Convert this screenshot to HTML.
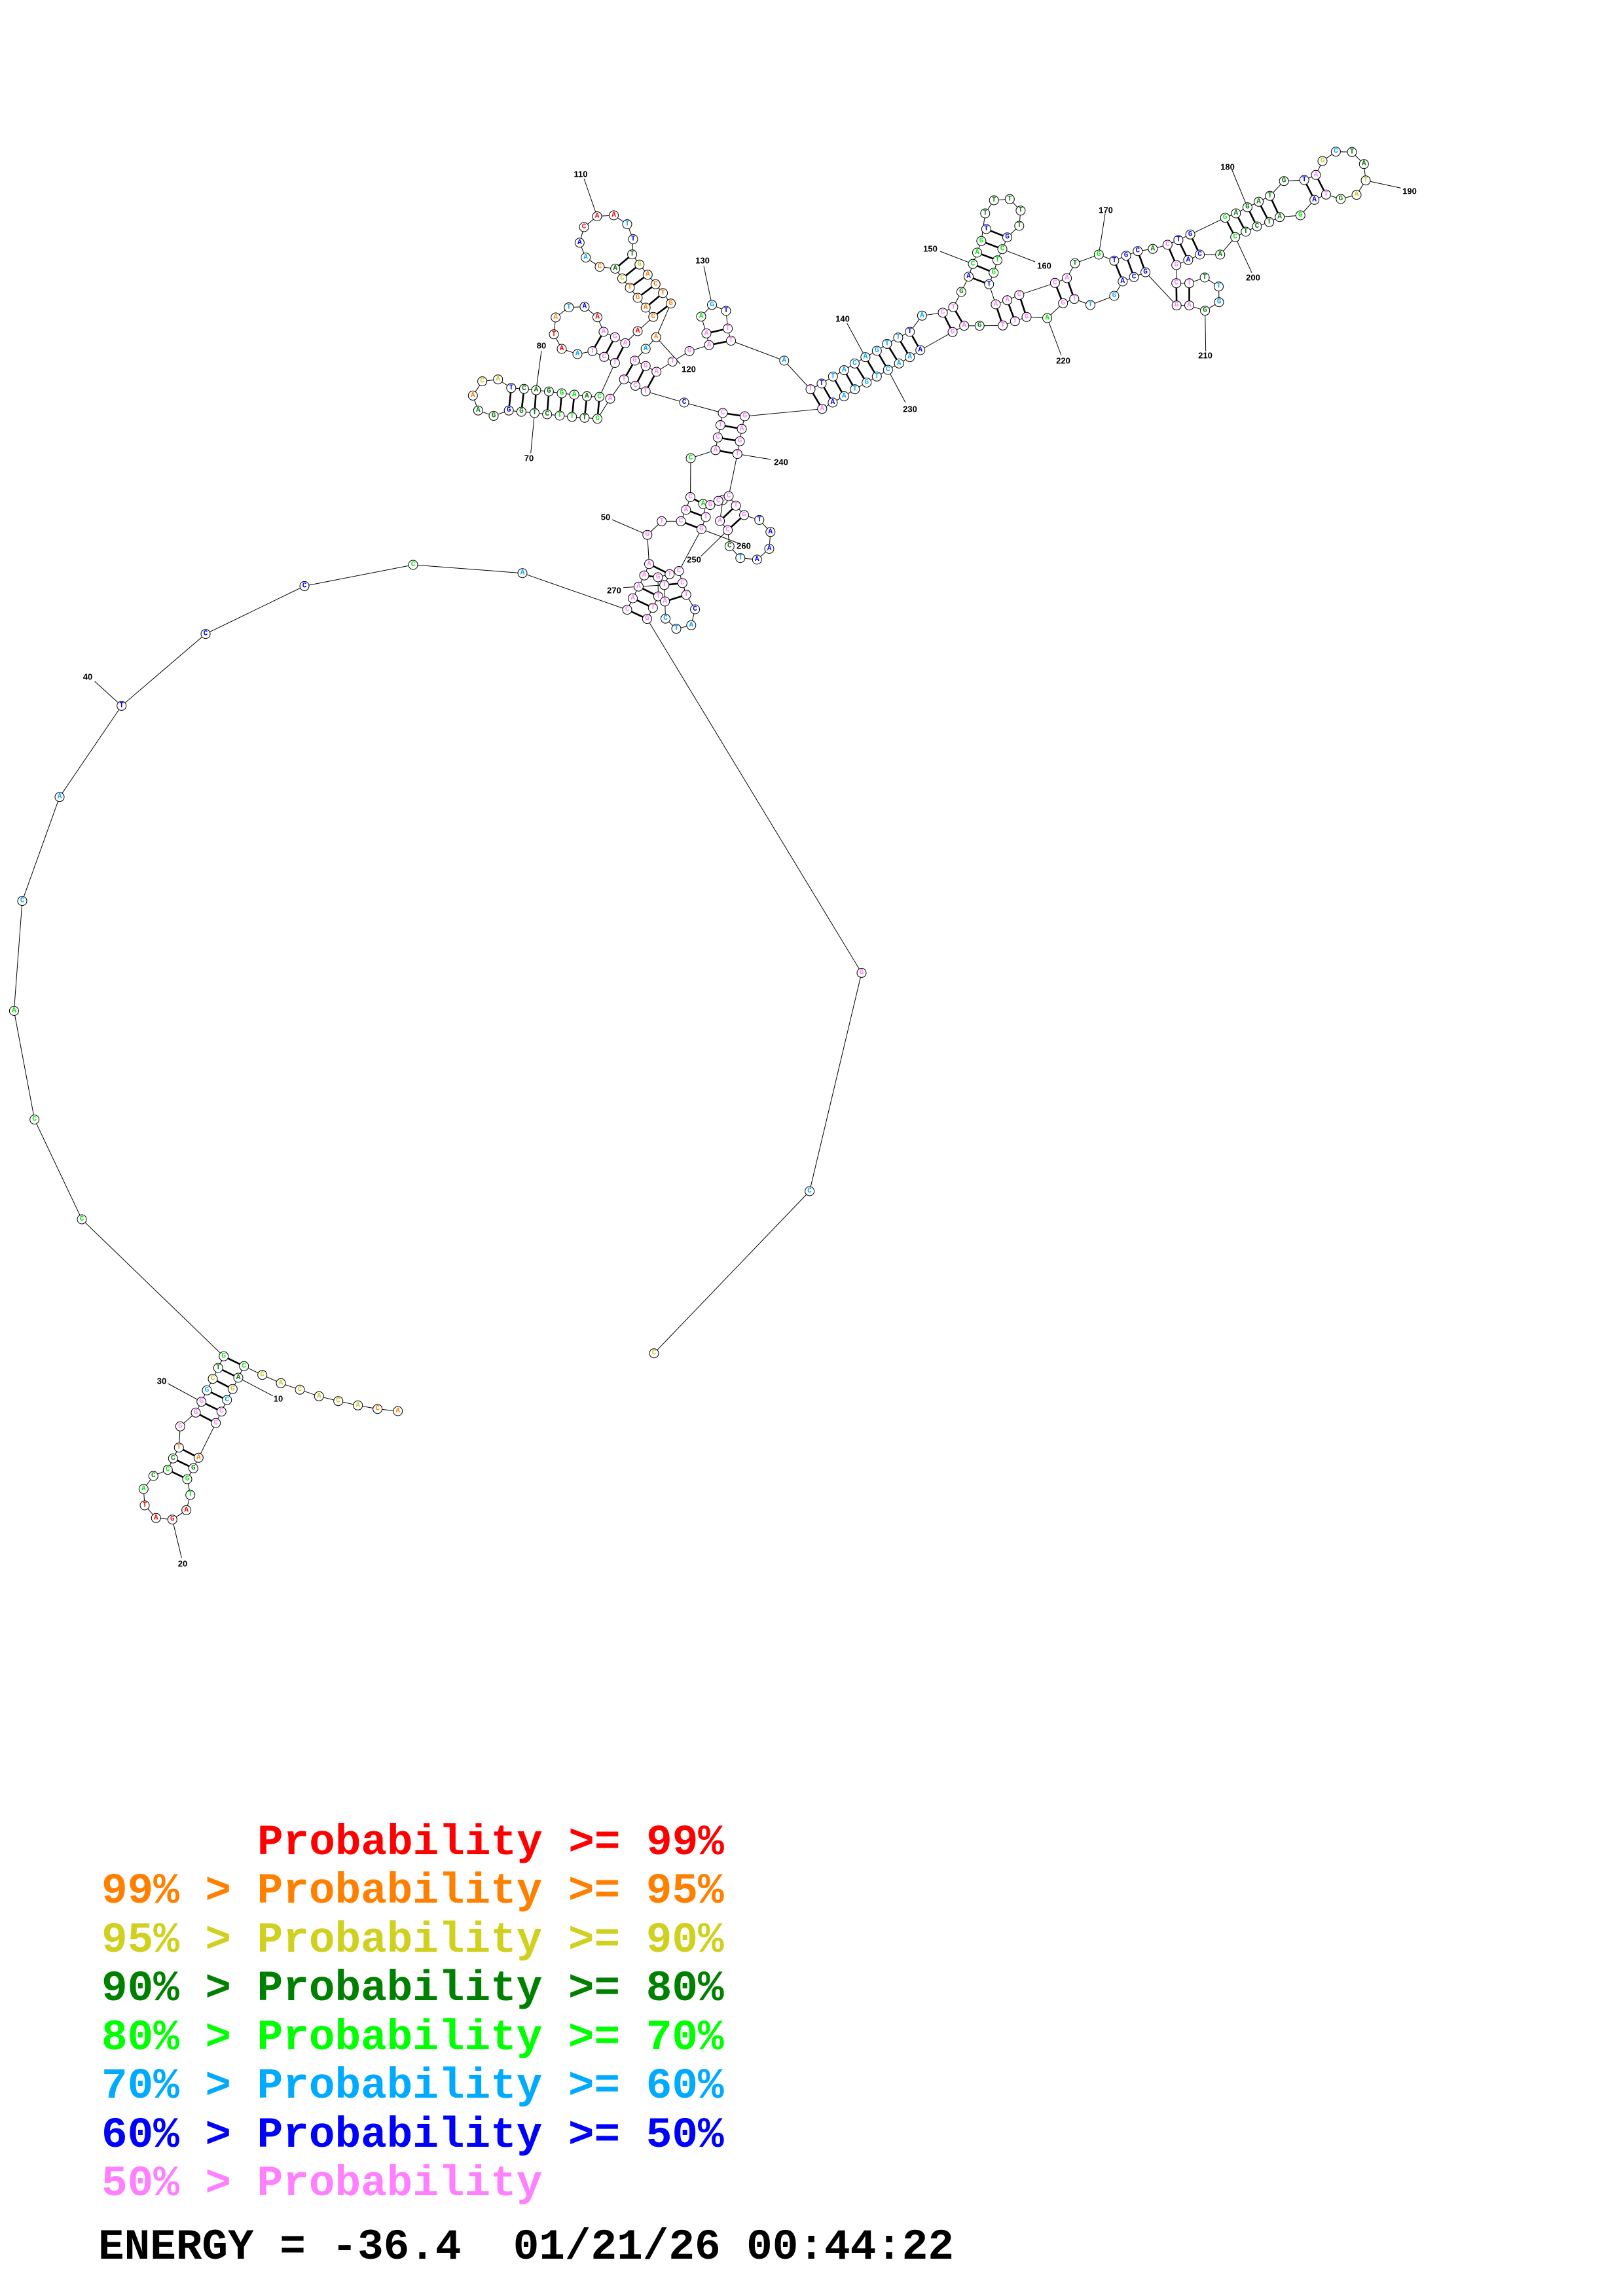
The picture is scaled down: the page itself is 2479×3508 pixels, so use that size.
<!DOCTYPE html>
<html><head><meta charset="utf-8"><style>
html,body{margin:0;padding:0;background:#fff}
svg{display:block}
.bb{fill:none;stroke:#000;stroke-width:1}
.pr{stroke:#000;stroke-width:2.6}
.tk{stroke:#000;stroke-width:1}
circle{fill:#fff;stroke:#000;stroke-width:1}
.n{font-family:"Liberation Mono",monospace;font-weight:bold;font-size:11px;text-anchor:middle;dominant-baseline:central}
.r{fill:#ff0000}.o{fill:#ff8000}.y{fill:#cccc22}.d{fill:#008000}.g{fill:#00ee00}.b{fill:#00aaff}.u{fill:#0000ff}.p{fill:#ff80ff}
.lb{font-family:"Liberation Sans",sans-serif;font-weight:bold;font-size:13px;text-anchor:middle;dominant-baseline:central}
.lg{font-family:"Liberation Mono",monospace;font-weight:bold;font-size:66px;white-space:pre}
</style></head><body>
<svg width="2479" height="3508" viewBox="0 0 2479 3508" xmlns="http://www.w3.org/2000/svg">
<polyline class="bb" points="607.7,2156 576.7,2152.7 546.7,2147.3 516.7,2140.7 487.3,2133.3 458,2123.3 429,2113.3 400.7,2100.7 372.7,2087.3 364,2105 355.3,2122.3 346.7,2139 338.3,2156.7 329.7,2174.3 303.3,2227.3 295.3,2243.3 286,2260 290.7,2284 284.7,2307.3 263.3,2321.7 238.3,2319.3 221,2300 219.3,2275 234.3,2255 256.3,2245.7 264.3,2228.3 273.3,2211.7 275.3,2179.3 299,2158.3 307.7,2141.7 316,2124.3 325,2106.7 333.3,2090 341.7,2072.3 125,1863 52.7,1710.5 21.4,1544.5 34,1376.6 91,1217.7 185.7,1078.4 314,968.6 465,895.4 631,863 798,875.7 958,931.6 966.5,914.1 975.4,896.2 984,879.2 991.5,861.8 988.8,817.2 1010.7,796.4 1040,796.4 1047.8,779 1054.5,759.5 1055,700 1092.9,687.8 1096.4,668.4 1100.4,649.5 1104,631 1045,615 986.2,598 970.5,589.4 953.1,579.7 932,609.2 912.5,639.8 892.9,638.3 873.7,636.9 854.9,635 835.7,633 816.5,631 796.4,629.1 777.2,627.2 754,635.4 730.4,627.2 722.3,604.4 736.6,582.6 760.7,579.7 780.8,592.8 800.4,594.2 818.8,596.2 838.4,598.1 858,601 877.2,603 896.4,605.4 915.6,606.3 939.3,554.5 922.8,545.3 904.9,536.5 882,541 858,533 846,510.8 848.7,485 868.8,469.6 892.9,468.7 912.5,484.7 921.9,507 939.3,515.2 955,524.4 974,506 997.8,484.2 986.2,470 974,455 962,439.6 950.4,425.5 939.7,410.5 916,407.6 894.6,393.5 885.3,370.8 892,347 912,330.5 937.5,329 958,342.6 967,365.4 965.6,388.7 976.8,404.2 989.3,419.7 1001.3,434.3 1012.5,447.8 1024.6,463.8 1002.2,515.2 986.2,533 969.6,551 986.2,559.3 1002.7,568 1027.2,552.5 1053.1,536.5 1083,527.3 1079,509.4 1071,483.7 1087.5,465.8 1109,475 1111.6,502 1116.5,520.5 1197.8,551 1238,594.7 1255,586 1272.3,575.3 1289.3,565.6 1305.4,555.4 1321.9,545.7 1339.3,536 1354.9,525.4 1371.9,515.7 1389.7,507 1408.4,482.3 1440,477.7 1456,469.3 1468.4,446 1479.6,422.7 1486,403.3 1492.5,386 1498.9,368.3 1504.8,326 1518.2,306 1542.3,304.3 1558.9,321.7 1556.8,345 1538.5,362.7 1531,380.7 1523.5,397.7 1517.7,416.7 1510.7,434.3 1520.9,465 1538.5,458.7 1556.8,450.7 1611.4,432.3 1629.6,425 1641.9,402.3 1678.3,389 1701.9,398.3 1720.1,390.7 1737.8,383.7 1760.8,380.3 1783.3,374 1799.9,366.7 1818.1,358.3 1871.2,332.7 1887.8,326 1905.4,316.7 1922.6,308.3 1939.7,299.3 1961.1,276.7 1992.2,275 2009.9,267.3 2020,246 2040.4,231.7 2065,232.3 2083.3,250.7 2086,275.7 2072,297.7 2047.9,304 2025.4,297.3 2007.7,305.3 1986.3,329 1954.7,331.7 1938.6,339.3 1919.9,346 1902.8,354 1886.7,362.3 1863.7,389 1832.6,389 1814.9,397.3 1796.7,405 1796.7,432.7 1816.5,432.7 1840.1,424 1861.5,437.7 1862,461.7 1840.6,474.7 1816.5,466.7 1797.2,466.7 1749.6,416 1732,423.3 1714.8,430 1701.9,452 1665.5,466 1640.8,456.7 1623.7,463.3 1599.6,486 1568,484.3 1550.3,490.7 1531.6,497.3 1496.2,497.7 1472.7,497.7 1455,507.3 1405.7,535 1389.7,545.7 1373.2,555.4 1356.3,565.1 1339.3,575.3 1323.7,584.5 1305.8,594.7 1289.3,605.4 1271.9,615 1255.8,624.7 1137.5,636 1133,655.3 1130,674.2 1126.3,693.6 1113,758 1124,772.6 1136.6,787 1159.8,794.4 1176.8,812.8 1175,838.5 1156.3,855 1130.8,852.6 1114.3,834.6 1111.6,810 1099.6,796 1104,764 1097.3,765.3 1084.8,771.6 1074,770 1078,790 1071.4,808.5 1037,872.5 1042.4,890.9 1048.2,908.8 1061.6,931 1055.8,955.3 1033,960.7 1016.5,945.2 1015.6,919 1014.7,893.8 1022.8,877.3 1005,882 1005.4,911.2 997.3,928.7 988.4,945.6 1316,1486.4 1236.6,1820 999,2067.7"/>
<g class="pr">
<line x1="341.7" y1="2072.3" x2="372.7" y2="2087.3"/><line x1="333.3" y1="2090" x2="364" y2="2105"/><line x1="325" y1="2106.7" x2="355.3" y2="2122.3"/><line x1="316" y1="2124.3" x2="346.7" y2="2139"/><line x1="307.7" y1="2141.7" x2="338.3" y2="2156.7"/><line x1="299" y1="2158.3" x2="329.7" y2="2174.3"/><line x1="273.3" y1="2211.7" x2="303.3" y2="2227.3"/><line x1="264.3" y1="2228.3" x2="295.3" y2="2243.3"/><line x1="256.3" y1="2245.7" x2="286" y2="2260"/>
<line x1="780.8" y1="592.8" x2="777.2" y2="627.2"/><line x1="800.4" y1="594.2" x2="796.4" y2="629.1"/><line x1="818.8" y1="596.2" x2="816.5" y2="631"/><line x1="838.4" y1="598.1" x2="835.7" y2="633"/><line x1="858" y1="601" x2="854.9" y2="635"/><line x1="877.2" y1="603" x2="873.7" y2="636.9"/><line x1="896.4" y1="605.4" x2="892.9" y2="638.3"/><line x1="915.6" y1="606.3" x2="912.5" y2="639.8"/>
<line x1="921.9" y1="507" x2="904.9" y2="536.5"/><line x1="939.3" y1="515.2" x2="922.8" y2="545.3"/><line x1="955" y1="524.4" x2="939.3" y2="554.5"/>
<line x1="939.7" y1="410.5" x2="965.6" y2="388.7"/><line x1="950.4" y1="425.5" x2="976.8" y2="404.2"/><line x1="962" y1="439.6" x2="989.3" y2="419.7"/><line x1="974" y1="455" x2="1001.3" y2="434.3"/><line x1="986.2" y1="470" x2="1012.5" y2="447.8"/><line x1="997.8" y1="484.2" x2="1024.6" y2="463.8"/>
<line x1="953.1" y1="579.7" x2="969.6" y2="551"/><line x1="970.5" y1="589.4" x2="986.2" y2="559.3"/><line x1="986.2" y1="598" x2="1002.7" y2="568"/>
<line x1="1079" y1="509.4" x2="1111.6" y2="502"/><line x1="1083" y1="527.3" x2="1116.5" y2="520.5"/>
<line x1="1104" y1="631" x2="1137.5" y2="636"/><line x1="1100.4" y1="649.5" x2="1133" y2="655.3"/><line x1="1096.4" y1="668.4" x2="1130" y2="674.2"/><line x1="1092.9" y1="687.8" x2="1126.3" y2="693.6"/>
<line x1="1238" y1="594.7" x2="1255.8" y2="624.7"/><line x1="1255" y1="586" x2="1271.9" y2="615"/><line x1="1272.3" y1="575.3" x2="1289.3" y2="605.4"/><line x1="1289.3" y1="565.6" x2="1305.8" y2="594.7"/><line x1="1305.4" y1="555.4" x2="1323.7" y2="584.5"/><line x1="1321.9" y1="545.7" x2="1339.3" y2="575.3"/><line x1="1339.3" y1="536" x2="1356.3" y2="565.1"/><line x1="1354.9" y1="525.4" x2="1373.2" y2="555.4"/><line x1="1371.9" y1="515.7" x2="1389.7" y2="545.7"/><line x1="1389.7" y1="507" x2="1405.7" y2="535"/>
<line x1="1440" y1="477.7" x2="1455" y2="507.3"/><line x1="1456" y1="469.3" x2="1472.7" y2="497.7"/>
<line x1="1479.6" y1="422.7" x2="1510.7" y2="434.3"/><line x1="1486" y1="403.3" x2="1517.7" y2="416.7"/><line x1="1492.5" y1="386" x2="1523.5" y2="397.7"/><line x1="1498.9" y1="368.3" x2="1531" y2="380.7"/><line x1="1506.4" y1="350" x2="1538.5" y2="362.7"/>
<line x1="1520.9" y1="465" x2="1531.6" y2="497.3"/><line x1="1538.5" y1="458.7" x2="1550.3" y2="490.7"/><line x1="1556.8" y1="450.7" x2="1568" y2="484.3"/>
<line x1="1611.4" y1="432.3" x2="1623.7" y2="463.3"/><line x1="1629.6" y1="425" x2="1640.8" y2="456.7"/>
<line x1="1701.9" y1="398.3" x2="1714.8" y2="430"/><line x1="1720.1" y1="390.7" x2="1732" y2="423.3"/><line x1="1737.8" y1="383.7" x2="1749.6" y2="416"/>
<line x1="1783.3" y1="374" x2="1796.7" y2="405"/><line x1="1799.9" y1="366.7" x2="1814.9" y2="397.3"/><line x1="1818.1" y1="358.3" x2="1832.6" y2="389"/>
<line x1="1796.7" y1="432.7" x2="1797.2" y2="466.7"/><line x1="1816.5" y1="432.7" x2="1816.5" y2="466.7"/>
<line x1="1871.2" y1="332.7" x2="1886.7" y2="362.3"/><line x1="1887.8" y1="326" x2="1902.8" y2="354"/><line x1="1905.4" y1="316.7" x2="1919.9" y2="346"/><line x1="1922.6" y1="308.3" x2="1938.6" y2="339.3"/><line x1="1939.7" y1="299.3" x2="1954.7" y2="331.7"/>
<line x1="1992.2" y1="275" x2="2007.7" y2="305.3"/><line x1="2009.9" y1="267.3" x2="2025.4" y2="297.3"/>
<line x1="1040" y1="796.4" x2="1071.4" y2="808.5"/><line x1="1047.8" y1="779" x2="1078" y2="790"/><line x1="1054.5" y1="759.5" x2="1074" y2="770"/>
<line x1="1124" y1="772.6" x2="1099.6" y2="796"/><line x1="1136.6" y1="787" x2="1111.6" y2="810"/>
<line x1="958" y1="931.6" x2="988.4" y2="945.6"/><line x1="966.5" y1="914.1" x2="997.3" y2="928.7"/><line x1="975.4" y1="896.2" x2="1005.4" y2="911.2"/><line x1="984" y1="879.2" x2="1005" y2="882"/><line x1="991.5" y1="861.8" x2="1022.8" y2="877.3"/>
<line x1="1014.7" y1="893.8" x2="1042.4" y2="890.9"/><line x1="1015.6" y1="919" x2="1048.2" y2="908.8"/>
</g>
<g class="tk">
<line x1="416.7" y1="2132.7" x2="364" y2="2105"/><line x1="277.3" y1="2380" x2="263.3" y2="2321.7"/><line x1="256.7" y1="2114" x2="307.7" y2="2141.7"/><line x1="144.6" y1="1041" x2="185.7" y2="1078.4"/><line x1="935" y1="794" x2="988.8" y2="817.2"/><line x1="810.7" y1="692.6" x2="816.5" y2="631"/><line x1="827" y1="536" x2="818.8" y2="596.2"/><line x1="892" y1="273" x2="912" y2="330.5"/><line x1="1039" y1="556" x2="1002.2" y2="515.2"/><line x1="1075" y1="406.6" x2="1087.5" y2="465.8"/><line x1="1293.8" y1="494" x2="1321.9" y2="545.7"/><line x1="1436" y1="384" x2="1486" y2="403.3"/><line x1="1581" y1="400" x2="1531" y2="380.7"/><line x1="1688" y1="326.7" x2="1678.3" y2="389"/><line x1="1881.9" y1="260" x2="1905.4" y2="316.7"/><line x1="2139.5" y1="287.3" x2="2086" y2="275.7"/><line x1="1912" y1="416.7" x2="1886.7" y2="362.3"/><line x1="1841.7" y1="536.7" x2="1840.6" y2="474.7"/><line x1="1621" y1="543" x2="1599.6" y2="486"/><line x1="1383" y1="615" x2="1356.3" y2="565.1"/><line x1="1177.7" y1="702" x2="1126.3" y2="693.6"/><line x1="1070.5" y1="850" x2="1111.6" y2="810"/><line x1="1128" y1="830" x2="1071.4" y2="808.5"/><line x1="952" y1="897.7" x2="1014.7" y2="893.8"/>
</g>
<g id="nodes">
<circle cx="607.7" cy="2156" r="7"/><text class="n o" x="607.7" y="2156">A</text>
<circle cx="576.7" cy="2152.7" r="7"/><text class="n o" x="576.7" y="2152.7">C</text>
<circle cx="546.7" cy="2147.3" r="7"/><text class="n y" x="546.7" y="2147.3">A</text>
<circle cx="516.7" cy="2140.7" r="7"/><text class="n y" x="516.7" y="2140.7">C</text>
<circle cx="487.3" cy="2133.3" r="7"/><text class="n y" x="487.3" y="2133.3">A</text>
<circle cx="458" cy="2123.3" r="7"/><text class="n y" x="458" y="2123.3">C</text>
<circle cx="429" cy="2113.3" r="7"/><text class="n y" x="429" y="2113.3">A</text>
<circle cx="400.7" cy="2100.7" r="7"/><text class="n y" x="400.7" y="2100.7">C</text>
<circle cx="372.7" cy="2087.3" r="7"/><text class="n g" x="372.7" y="2087.3">C</text>
<circle cx="364" cy="2105" r="7"/><text class="n d" x="364" y="2105">A</text>
<circle cx="355.3" cy="2122.3" r="7"/><text class="n y" x="355.3" y="2122.3">G</text>
<circle cx="346.7" cy="2139" r="7"/><text class="n b" x="346.7" y="2139">C</text>
<circle cx="338.3" cy="2156.7" r="7"/><text class="n p" x="338.3" y="2156.7">C</text>
<circle cx="329.7" cy="2174.3" r="7"/><text class="n p" x="329.7" y="2174.3">C</text>
<circle cx="303.3" cy="2227.3" r="7"/><text class="n o" x="303.3" y="2227.3">A</text>
<circle cx="295.3" cy="2243.3" r="7"/><text class="n d" x="295.3" y="2243.3">G</text>
<circle cx="286" cy="2260" r="7"/><text class="n g" x="286" y="2260">G</text>
<circle cx="290.7" cy="2284" r="7"/><text class="n g" x="290.7" y="2284">T</text>
<circle cx="284.7" cy="2307.3" r="7"/><text class="n r" x="284.7" y="2307.3">A</text>
<circle cx="263.3" cy="2321.7" r="7"/><text class="n r" x="263.3" y="2321.7">G</text>
<circle cx="238.3" cy="2319.3" r="7"/><text class="n r" x="238.3" y="2319.3">A</text>
<circle cx="221" cy="2300" r="7"/><text class="n r" x="221" y="2300">T</text>
<circle cx="219.3" cy="2275" r="7"/><text class="n g" x="219.3" y="2275">A</text>
<circle cx="234.3" cy="2255" r="7"/><text class="n d" x="234.3" y="2255">C</text>
<circle cx="256.3" cy="2245.7" r="7"/><text class="n g" x="256.3" y="2245.7">C</text>
<circle cx="264.3" cy="2228.3" r="7"/><text class="n d" x="264.3" y="2228.3">C</text>
<circle cx="273.3" cy="2211.7" r="7"/><text class="n o" x="273.3" y="2211.7">T</text>
<circle cx="275.3" cy="2179.3" r="7"/><text class="n p" x="275.3" y="2179.3">G</text>
<circle cx="299" cy="2158.3" r="7"/><text class="n p" x="299" y="2158.3">G</text>
<circle cx="307.7" cy="2141.7" r="7"/><text class="n p" x="307.7" y="2141.7">G</text>
<circle cx="316" cy="2124.3" r="7"/><text class="n b" x="316" y="2124.3">G</text>
<circle cx="325" cy="2106.7" r="7"/><text class="n y" x="325" y="2106.7">C</text>
<circle cx="333.3" cy="2090" r="7"/><text class="n d" x="333.3" y="2090">T</text>
<circle cx="341.7" cy="2072.3" r="7"/><text class="n g" x="341.7" y="2072.3">G</text>
<circle cx="125" cy="1863" r="7"/><text class="n g" x="125" y="1863">C</text>
<circle cx="52.7" cy="1710.5" r="7"/><text class="n g" x="52.7" y="1710.5">C</text>
<circle cx="21.4" cy="1544.5" r="7"/><text class="n g" x="21.4" y="1544.5">A</text>
<circle cx="34" cy="1376.6" r="7"/><text class="n b" x="34" y="1376.6">C</text>
<circle cx="91" cy="1217.7" r="7"/><text class="n b" x="91" y="1217.7">A</text>
<circle cx="185.7" cy="1078.4" r="7"/><text class="n u" x="185.7" y="1078.4">T</text>
<circle cx="314" cy="968.6" r="7"/><text class="n u" x="314" y="968.6">C</text>
<circle cx="465" cy="895.4" r="7"/><text class="n u" x="465" y="895.4">C</text>
<circle cx="631" cy="863" r="7"/><text class="n g" x="631" y="863">C</text>
<circle cx="798" cy="875.7" r="7"/><text class="n b" x="798" y="875.7">A</text>
<circle cx="1316" cy="1486.4" r="7"/><text class="n p" x="1316" y="1486.4">G</text>
<circle cx="1236.6" cy="1820" r="7"/><text class="n b" x="1236.6" y="1820">C</text>
<circle cx="999" cy="2067.7" r="7"/><text class="n y" x="999" y="2067.7">C</text>
<circle cx="912" cy="330.5" r="7"/><text class="n r" x="912" y="330.5">A</text>
<circle cx="937.5" cy="329" r="7"/><text class="n r" x="937.5" y="329">A</text>
<circle cx="958" cy="342.6" r="7"/><text class="n b" x="958" y="342.6">T</text>
<circle cx="967" cy="365.4" r="7"/><text class="n u" x="967" y="365.4">T</text>
<circle cx="965.6" cy="388.7" r="7"/><text class="n d" x="965.6" y="388.7">T</text>
<circle cx="976.8" cy="404.2" r="7"/><text class="n y" x="976.8" y="404.2">G</text>
<circle cx="989.3" cy="419.7" r="7"/><text class="n o" x="989.3" y="419.7">A</text>
<circle cx="1001.3" cy="434.3" r="7"/><text class="n o" x="1001.3" y="434.3">C</text>
<circle cx="1012.5" cy="447.8" r="7"/><text class="n o" x="1012.5" y="447.8">T</text>
<circle cx="1024.6" cy="463.8" r="7"/><text class="n o" x="1024.6" y="463.8">G</text>
<circle cx="892" cy="347" r="7"/><text class="n r" x="892" y="347">C</text>
<circle cx="885.3" cy="370.8" r="7"/><text class="n u" x="885.3" y="370.8">A</text>
<circle cx="894.6" cy="393.5" r="7"/><text class="n b" x="894.6" y="393.5">A</text>
<circle cx="916" cy="407.6" r="7"/><text class="n o" x="916" y="407.6">C</text>
<circle cx="939.7" cy="410.5" r="7"/><text class="n d" x="939.7" y="410.5">A</text>
<circle cx="950.4" cy="425.5" r="7"/><text class="n y" x="950.4" y="425.5">C</text>
<circle cx="962" cy="439.6" r="7"/><text class="n o" x="962" y="439.6">T</text>
<circle cx="974" cy="455" r="7"/><text class="n o" x="974" y="455">G</text>
<circle cx="986.2" cy="470" r="7"/><text class="n o" x="986.2" y="470">A</text>
<circle cx="997.8" cy="484.2" r="7"/><text class="n o" x="997.8" y="484.2">C</text>
<circle cx="974" cy="506" r="7"/><text class="n r" x="974" y="506">A</text>
<circle cx="848.7" cy="485" r="7"/><text class="n o" x="848.7" y="485">A</text>
<circle cx="868.8" cy="469.6" r="7"/><text class="n b" x="868.8" y="469.6">T</text>
<circle cx="892.9" cy="468.7" r="7"/><text class="n u" x="892.9" y="468.7">A</text>
<circle cx="912.5" cy="484.7" r="7"/><text class="n r" x="912.5" y="484.7">A</text>
<circle cx="921.9" cy="507" r="7"/><text class="n p" x="921.9" y="507">A</text>
<circle cx="939.3" cy="515.2" r="7"/><text class="n p" x="939.3" y="515.2">G</text>
<circle cx="955" cy="524.4" r="7"/><text class="n p" x="955" y="524.4">A</text>
<circle cx="846" cy="510.8" r="7"/><text class="n r" x="846" y="510.8">T</text>
<circle cx="858" cy="533" r="7"/><text class="n r" x="858" y="533">A</text>
<circle cx="882" cy="541" r="7"/><text class="n b" x="882" y="541">A</text>
<circle cx="904.9" cy="536.5" r="7"/><text class="n p" x="904.9" y="536.5">T</text>
<circle cx="922.8" cy="545.3" r="7"/><text class="n p" x="922.8" y="545.3">C</text>
<circle cx="939.3" cy="554.5" r="7"/><text class="n p" x="939.3" y="554.5">T</text>
<circle cx="736.6" cy="582.6" r="7"/><text class="n y" x="736.6" y="582.6">C</text>
<circle cx="760.7" cy="579.7" r="7"/><text class="n y" x="760.7" y="579.7">A</text>
<circle cx="722.3" cy="604.4" r="7"/><text class="n o" x="722.3" y="604.4">A</text>
<circle cx="730.4" cy="627.2" r="7"/><text class="n d" x="730.4" y="627.2">A</text>
<circle cx="754" cy="635.4" r="7"/><text class="n d" x="754" y="635.4">G</text>
<circle cx="780.8" cy="592.8" r="7"/><text class="n u" x="780.8" y="592.8">T</text>
<circle cx="800.4" cy="594.2" r="7"/><text class="n d" x="800.4" y="594.2">C</text>
<circle cx="818.8" cy="596.2" r="7"/><text class="n d" x="818.8" y="596.2">A</text>
<circle cx="838.4" cy="598.1" r="7"/><text class="n d" x="838.4" y="598.1">G</text>
<circle cx="858" cy="601" r="7"/><text class="n g" x="858" y="601">G</text>
<circle cx="877.2" cy="603" r="7"/><text class="n g" x="877.2" y="603">A</text>
<circle cx="896.4" cy="605.4" r="7"/><text class="n d" x="896.4" y="605.4">A</text>
<circle cx="915.6" cy="606.3" r="7"/><text class="n g" x="915.6" y="606.3">C</text>
<circle cx="777.2" cy="627.2" r="7"/><text class="n u" x="777.2" y="627.2">G</text>
<circle cx="796.4" cy="629.1" r="7"/><text class="n d" x="796.4" y="629.1">G</text>
<circle cx="816.5" cy="631" r="7"/><text class="n d" x="816.5" y="631">T</text>
<circle cx="835.7" cy="633" r="7"/><text class="n d" x="835.7" y="633">C</text>
<circle cx="854.9" cy="635" r="7"/><text class="n g" x="854.9" y="635">T</text>
<circle cx="873.7" cy="636.9" r="7"/><text class="n g" x="873.7" y="636.9">T</text>
<circle cx="892.9" cy="638.3" r="7"/><text class="n d" x="892.9" y="638.3">T</text>
<circle cx="912.5" cy="639.8" r="7"/><text class="n g" x="912.5" y="639.8">G</text>
<circle cx="932" cy="609.2" r="7"/><text class="n p" x="932" y="609.2">A</text>
<circle cx="953.1" cy="579.7" r="7"/><text class="n p" x="953.1" y="579.7">T</text>
<circle cx="969.6" cy="551" r="7"/><text class="n p" x="969.6" y="551">G</text>
<circle cx="986.2" cy="533" r="7"/><text class="n b" x="986.2" y="533">A</text>
<circle cx="1002.2" cy="515.2" r="7"/><text class="n o" x="1002.2" y="515.2">A</text>
<circle cx="970.5" cy="589.4" r="7"/><text class="n p" x="970.5" y="589.4">C</text>
<circle cx="986.2" cy="559.3" r="7"/><text class="n p" x="986.2" y="559.3">G</text>
<circle cx="986.2" cy="598" r="7"/><text class="n p" x="986.2" y="598">T</text>
<circle cx="1002.7" cy="568" r="7"/><text class="n p" x="1002.7" y="568">A</text>
<circle cx="1027.2" cy="552.5" r="7"/><text class="n p" x="1027.2" y="552.5">T</text>
<circle cx="1053.1" cy="536.5" r="7"/><text class="n p" x="1053.1" y="536.5">G</text>
<circle cx="1083" cy="527.3" r="7"/><text class="n p" x="1083" y="527.3">A</text>
<circle cx="1116.5" cy="520.5" r="7"/><text class="n p" x="1116.5" y="520.5">T</text>
<circle cx="1079" cy="509.4" r="7"/><text class="n p" x="1079" y="509.4">A</text>
<circle cx="1111.6" cy="502" r="7"/><text class="n p" x="1111.6" y="502">T</text>
<circle cx="1071" cy="483.7" r="7"/><text class="n g" x="1071" y="483.7">A</text>
<circle cx="1087.5" cy="465.8" r="7"/><text class="n b" x="1087.5" y="465.8">G</text>
<circle cx="1109" cy="475" r="7"/><text class="n u" x="1109" y="475">T</text>
<circle cx="1045" cy="615" r="7"/><text class="n u" x="1045" y="615">C</text>
<circle cx="1197.8" cy="551" r="7"/><text class="n b" x="1197.8" y="551">A</text>
<circle cx="1104" cy="631" r="7"/><text class="n p" x="1104" y="631">C</text>
<circle cx="1137.5" cy="636" r="7"/><text class="n p" x="1137.5" y="636">G</text>
<circle cx="1100.4" cy="649.5" r="7"/><text class="n p" x="1100.4" y="649.5">T</text>
<circle cx="1133" cy="655.3" r="7"/><text class="n p" x="1133" y="655.3">A</text>
<circle cx="1096.4" cy="668.4" r="7"/><text class="n p" x="1096.4" y="668.4">C</text>
<circle cx="1130" cy="674.2" r="7"/><text class="n p" x="1130" y="674.2">G</text>
<circle cx="1092.9" cy="687.8" r="7"/><text class="n p" x="1092.9" y="687.8">A</text>
<circle cx="1126.3" cy="693.6" r="7"/><text class="n p" x="1126.3" y="693.6">T</text>
<circle cx="1055" cy="700" r="7"/><text class="n g" x="1055" y="700">C</text>
<circle cx="1054.5" cy="759.5" r="7"/><text class="n p" x="1054.5" y="759.5">C</text>
<circle cx="1104" cy="764" r="7"/><text class="n p" x="1104" y="764">C</text>
<circle cx="1097.3" cy="765.3" r="7"/><text class="n p" x="1097.3" y="765.3">C</text>
<circle cx="1113" cy="758" r="7"/><text class="n p" x="1113" y="758">C</text>
<circle cx="1074" cy="770" r="7"/><text class="n g" x="1074" y="770">A</text>
<circle cx="1084.8" cy="771.6" r="7"/><text class="n p" x="1084.8" y="771.6">G</text>
<circle cx="1047.8" cy="779" r="7"/><text class="n p" x="1047.8" y="779">A</text>
<circle cx="1078" cy="790" r="7"/><text class="n p" x="1078" y="790">T</text>
<circle cx="1040" cy="796.4" r="7"/><text class="n p" x="1040" y="796.4">C</text>
<circle cx="1071.4" cy="808.5" r="7"/><text class="n p" x="1071.4" y="808.5">G</text>
<circle cx="1010.7" cy="796.4" r="7"/><text class="n p" x="1010.7" y="796.4">T</text>
<circle cx="988.8" cy="817.2" r="7"/><text class="n p" x="988.8" y="817.2">G</text>
<circle cx="1124" cy="772.6" r="7"/><text class="n p" x="1124" y="772.6">T</text>
<circle cx="1136.6" cy="787" r="7"/><text class="n p" x="1136.6" y="787">G</text>
<circle cx="1099.6" cy="796" r="7"/><text class="n p" x="1099.6" y="796">A</text>
<circle cx="1111.6" cy="810" r="7"/><text class="n p" x="1111.6" y="810">C</text>
<circle cx="1159.8" cy="794.4" r="7"/><text class="n u" x="1159.8" y="794.4">T</text>
<circle cx="1176.8" cy="812.8" r="7"/><text class="n u" x="1176.8" y="812.8">A</text>
<circle cx="1175" cy="838.5" r="7"/><text class="n u" x="1175" y="838.5">A</text>
<circle cx="1156.3" cy="855" r="7"/><text class="n u" x="1156.3" y="855">A</text>
<circle cx="1130.8" cy="852.6" r="7"/><text class="n b" x="1130.8" y="852.6">T</text>
<circle cx="1114.3" cy="834.6" r="7"/><text class="n d" x="1114.3" y="834.6">C</text>
<circle cx="991.5" cy="861.8" r="7"/><text class="n p" x="991.5" y="861.8">A</text>
<circle cx="1037" cy="872.5" r="7"/><text class="n p" x="1037" y="872.5">C</text>
<circle cx="1022.8" cy="877.3" r="7"/><text class="n p" x="1022.8" y="877.3">T</text>
<circle cx="984" cy="879.2" r="7"/><text class="n p" x="984" y="879.2">A</text>
<circle cx="1005" cy="882" r="7"/><text class="n p" x="1005" y="882">G</text>
<circle cx="1042.4" cy="890.9" r="7"/><text class="n p" x="1042.4" y="890.9">C</text>
<circle cx="1014.7" cy="893.8" r="7"/><text class="n p" x="1014.7" y="893.8">T</text>
<circle cx="975.4" cy="896.2" r="7"/><text class="n p" x="975.4" y="896.2">A</text>
<circle cx="1005.4" cy="911.2" r="7"/><text class="n p" x="1005.4" y="911.2">T</text>
<circle cx="1048.2" cy="908.8" r="7"/><text class="n p" x="1048.2" y="908.8">T</text>
<circle cx="1015.6" cy="919" r="7"/><text class="n p" x="1015.6" y="919">A</text>
<circle cx="966.5" cy="914.1" r="7"/><text class="n p" x="966.5" y="914.1">A</text>
<circle cx="997.3" cy="928.7" r="7"/><text class="n p" x="997.3" y="928.7">T</text>
<circle cx="1061.6" cy="931" r="7"/><text class="n u" x="1061.6" y="931">C</text>
<circle cx="958" cy="931.6" r="7"/><text class="n p" x="958" y="931.6">C</text>
<circle cx="988.4" cy="945.6" r="7"/><text class="n p" x="988.4" y="945.6">G</text>
<circle cx="1016.5" cy="945.2" r="7"/><text class="n b" x="1016.5" y="945.2">C</text>
<circle cx="1055.8" cy="955.3" r="7"/><text class="n b" x="1055.8" y="955.3">A</text>
<circle cx="1033" cy="960.7" r="7"/><text class="n b" x="1033" y="960.7">T</text>
<circle cx="1238" cy="594.7" r="7"/><text class="n p" x="1238" y="594.7">T</text>
<circle cx="1255.8" cy="624.7" r="7"/><text class="n p" x="1255.8" y="624.7">A</text>
<circle cx="1255" cy="586" r="7"/><text class="n u" x="1255" y="586">T</text>
<circle cx="1271.9" cy="615" r="7"/><text class="n u" x="1271.9" y="615">A</text>
<circle cx="1272.3" cy="575.3" r="7"/><text class="n b" x="1272.3" y="575.3">T</text>
<circle cx="1289.3" cy="605.4" r="7"/><text class="n b" x="1289.3" y="605.4">A</text>
<circle cx="1289.3" cy="565.6" r="7"/><text class="n b" x="1289.3" y="565.6">A</text>
<circle cx="1305.8" cy="594.7" r="7"/><text class="n b" x="1305.8" y="594.7">T</text>
<circle cx="1305.4" cy="555.4" r="7"/><text class="n b" x="1305.4" y="555.4">C</text>
<circle cx="1323.7" cy="584.5" r="7"/><text class="n b" x="1323.7" y="584.5">G</text>
<circle cx="1321.9" cy="545.7" r="7"/><text class="n b" x="1321.9" y="545.7">A</text>
<circle cx="1339.3" cy="575.3" r="7"/><text class="n b" x="1339.3" y="575.3">T</text>
<circle cx="1339.3" cy="536" r="7"/><text class="n b" x="1339.3" y="536">G</text>
<circle cx="1356.3" cy="565.1" r="7"/><text class="n b" x="1356.3" y="565.1">C</text>
<circle cx="1354.9" cy="525.4" r="7"/><text class="n b" x="1354.9" y="525.4">T</text>
<circle cx="1373.2" cy="555.4" r="7"/><text class="n b" x="1373.2" y="555.4">A</text>
<circle cx="1371.9" cy="515.7" r="7"/><text class="n b" x="1371.9" y="515.7">T</text>
<circle cx="1389.7" cy="545.7" r="7"/><text class="n b" x="1389.7" y="545.7">A</text>
<circle cx="1389.7" cy="507" r="7"/><text class="n u" x="1389.7" y="507">T</text>
<circle cx="1405.7" cy="535" r="7"/><text class="n u" x="1405.7" y="535">A</text>
<circle cx="1408.4" cy="482.3" r="7"/><text class="n b" x="1408.4" y="482.3">A</text>
<circle cx="1440" cy="477.7" r="7"/><text class="n p" x="1440" y="477.7">C</text>
<circle cx="1456" cy="469.3" r="7"/><text class="n p" x="1456" y="469.3">T</text>
<circle cx="1455" cy="507.3" r="7"/><text class="n p" x="1455" y="507.3">G</text>
<circle cx="1472.7" cy="497.7" r="7"/><text class="n p" x="1472.7" y="497.7">A</text>
<circle cx="1496.2" cy="497.7" r="7"/><text class="n d" x="1496.2" y="497.7">G</text>
<circle cx="1468.4" cy="446" r="7"/><text class="n d" x="1468.4" y="446">G</text>
<circle cx="1479.6" cy="422.7" r="7"/><text class="n u" x="1479.6" y="422.7">A</text>
<circle cx="1510.7" cy="434.3" r="7"/><text class="n u" x="1510.7" y="434.3">T</text>
<circle cx="1486" cy="403.3" r="7"/><text class="n g" x="1486" y="403.3">C</text>
<circle cx="1517.7" cy="416.7" r="7"/><text class="n g" x="1517.7" y="416.7">G</text>
<circle cx="1492.5" cy="386" r="7"/><text class="n g" x="1492.5" y="386">A</text>
<circle cx="1523.5" cy="397.7" r="7"/><text class="n g" x="1523.5" y="397.7">T</text>
<circle cx="1498.9" cy="368.3" r="7"/><text class="n g" x="1498.9" y="368.3">G</text>
<circle cx="1531" cy="380.7" r="7"/><text class="n g" x="1531" y="380.7">C</text>
<circle cx="1506.4" cy="350" r="7"/><text class="n u" x="1506.4" y="350">T</text>
<circle cx="1538.5" cy="362.7" r="7"/><text class="n u" x="1538.5" y="362.7">G</text>
<circle cx="1504.8" cy="326" r="7"/><text class="n d" x="1504.8" y="326">T</text>
<circle cx="1518.2" cy="306" r="7"/><text class="n d" x="1518.2" y="306">T</text>
<circle cx="1542.3" cy="304.3" r="7"/><text class="n d" x="1542.3" y="304.3">T</text>
<circle cx="1558.9" cy="321.7" r="7"/><text class="n d" x="1558.9" y="321.7">T</text>
<circle cx="1556.8" cy="345" r="7"/><text class="n d" x="1556.8" y="345">T</text>
<circle cx="1520.9" cy="465" r="7"/><text class="n p" x="1520.9" y="465">A</text>
<circle cx="1538.5" cy="458.7" r="7"/><text class="n p" x="1538.5" y="458.7">A</text>
<circle cx="1556.8" cy="450.7" r="7"/><text class="n p" x="1556.8" y="450.7">C</text>
<circle cx="1531.6" cy="497.3" r="7"/><text class="n p" x="1531.6" y="497.3">T</text>
<circle cx="1550.3" cy="490.7" r="7"/><text class="n p" x="1550.3" y="490.7">T</text>
<circle cx="1568" cy="484.3" r="7"/><text class="n p" x="1568" y="484.3">G</text>
<circle cx="1599.6" cy="486" r="7"/><text class="n g" x="1599.6" y="486">A</text>
<circle cx="1611.4" cy="432.3" r="7"/><text class="n p" x="1611.4" y="432.3">C</text>
<circle cx="1629.6" cy="425" r="7"/><text class="n p" x="1629.6" y="425">A</text>
<circle cx="1623.7" cy="463.3" r="7"/><text class="n p" x="1623.7" y="463.3">G</text>
<circle cx="1640.8" cy="456.7" r="7"/><text class="n p" x="1640.8" y="456.7">T</text>
<circle cx="1665.5" cy="466" r="7"/><text class="n b" x="1665.5" y="466">T</text>
<circle cx="1701.9" cy="452" r="7"/><text class="n b" x="1701.9" y="452">G</text>
<circle cx="1714.8" cy="430" r="7"/><text class="n u" x="1714.8" y="430">A</text>
<circle cx="1732" cy="423.3" r="7"/><text class="n u" x="1732" y="423.3">C</text>
<circle cx="1641.9" cy="402.3" r="7"/><text class="n d" x="1641.9" y="402.3">T</text>
<circle cx="1678.3" cy="389" r="7"/><text class="n g" x="1678.3" y="389">G</text>
<circle cx="1701.9" cy="398.3" r="7"/><text class="n u" x="1701.9" y="398.3">T</text>
<circle cx="1720.1" cy="390.7" r="7"/><text class="n u" x="1720.1" y="390.7">G</text>
<circle cx="1737.8" cy="383.7" r="7"/><text class="n u" x="1737.8" y="383.7">C</text>
<circle cx="1749.6" cy="416" r="7"/><text class="n u" x="1749.6" y="416">G</text>
<circle cx="1760.8" cy="380.3" r="7"/><text class="n d" x="1760.8" y="380.3">A</text>
<circle cx="1783.3" cy="374" r="7"/><text class="n p" x="1783.3" y="374">C</text>
<circle cx="1799.9" cy="366.7" r="7"/><text class="n u" x="1799.9" y="366.7">T</text>
<circle cx="1818.1" cy="358.3" r="7"/><text class="n u" x="1818.1" y="358.3">G</text>
<circle cx="1796.7" cy="405" r="7"/><text class="n p" x="1796.7" y="405">G</text>
<circle cx="1814.9" cy="397.3" r="7"/><text class="n u" x="1814.9" y="397.3">A</text>
<circle cx="1832.6" cy="389" r="7"/><text class="n u" x="1832.6" y="389">C</text>
<circle cx="1863.7" cy="389" r="7"/><text class="n d" x="1863.7" y="389">A</text>
<circle cx="1796.7" cy="432.7" r="7"/><text class="n p" x="1796.7" y="432.7">C</text>
<circle cx="1816.5" cy="432.7" r="7"/><text class="n p" x="1816.5" y="432.7">T</text>
<circle cx="1840.1" cy="424" r="7"/><text class="n d" x="1840.1" y="424">T</text>
<circle cx="1861.5" cy="437.7" r="7"/><text class="n b" x="1861.5" y="437.7">T</text>
<circle cx="1862" cy="461.7" r="7"/><text class="n b" x="1862" y="461.7">G</text>
<circle cx="1840.6" cy="474.7" r="7"/><text class="n d" x="1840.6" y="474.7">G</text>
<circle cx="1816.5" cy="466.7" r="7"/><text class="n p" x="1816.5" y="466.7">A</text>
<circle cx="1797.2" cy="466.7" r="7"/><text class="n p" x="1797.2" y="466.7">G</text>
<circle cx="1871.2" cy="332.7" r="7"/><text class="n g" x="1871.2" y="332.7">G</text>
<circle cx="1887.8" cy="326" r="7"/><text class="n d" x="1887.8" y="326">A</text>
<circle cx="1905.4" cy="316.7" r="7"/><text class="n d" x="1905.4" y="316.7">G</text>
<circle cx="1922.6" cy="308.3" r="7"/><text class="n d" x="1922.6" y="308.3">A</text>
<circle cx="1939.7" cy="299.3" r="7"/><text class="n d" x="1939.7" y="299.3">T</text>
<circle cx="1961.1" cy="276.7" r="7"/><text class="n d" x="1961.1" y="276.7">G</text>
<circle cx="1992.2" cy="275" r="7"/><text class="n u" x="1992.2" y="275">T</text>
<circle cx="2009.9" cy="267.3" r="7"/><text class="n p" x="2009.9" y="267.3">A</text>
<circle cx="2020" cy="246" r="7"/><text class="n y" x="2020" y="246">G</text>
<circle cx="2040.4" cy="231.7" r="7"/><text class="n b" x="2040.4" y="231.7">C</text>
<circle cx="2065" cy="232.3" r="7"/><text class="n d" x="2065" y="232.3">T</text>
<circle cx="2083.3" cy="250.7" r="7"/><text class="n d" x="2083.3" y="250.7">A</text>
<circle cx="2086" cy="275.7" r="7"/><text class="n y" x="2086" y="275.7">T</text>
<circle cx="2072" cy="297.7" r="7"/><text class="n y" x="2072" y="297.7">A</text>
<circle cx="2047.9" cy="304" r="7"/><text class="n d" x="2047.9" y="304">G</text>
<circle cx="2025.4" cy="297.3" r="7"/><text class="n p" x="2025.4" y="297.3">T</text>
<circle cx="2007.7" cy="305.3" r="7"/><text class="n u" x="2007.7" y="305.3">A</text>
<circle cx="1986.3" cy="329" r="7"/><text class="n g" x="1986.3" y="329">G</text>
<circle cx="1954.7" cy="331.7" r="7"/><text class="n d" x="1954.7" y="331.7">A</text>
<circle cx="1938.6" cy="339.3" r="7"/><text class="n d" x="1938.6" y="339.3">T</text>
<circle cx="1919.9" cy="346" r="7"/><text class="n d" x="1919.9" y="346">C</text>
<circle cx="1902.8" cy="354" r="7"/><text class="n d" x="1902.8" y="354">T</text>
<circle cx="1886.7" cy="362.3" r="7"/><text class="n g" x="1886.7" y="362.3">C</text>
</g>
<g class="lb">
<text x="425" y="2137">10</text><text x="279" y="2389">20</text><text x="247" y="2110">30</text><text x="134" y="1034">40</text><text x="925" y="790">50</text><text x="808" y="700">70</text><text x="827" y="528">80</text><text x="887" y="266">110</text><text x="1052" y="564">120</text><text x="1073" y="398">130</text><text x="1287" y="487">140</text><text x="1421" y="380">150</text><text x="1595" y="406">160</text><text x="1689" y="321">170</text><text x="1875" y="255">180</text><text x="2153" y="292">190</text><text x="1914" y="424">200</text><text x="1841" y="543">210</text><text x="1624" y="551">220</text><text x="1390" y="625">230</text><text x="1193" y="706">240</text><text x="1060" y="855">250</text><text x="1136" y="834">260</text><text x="938" y="902">270</text>
</g>
<g class="lg">
<text x="393" y="2833" fill="#ff0000">Probability &gt;= 99%</text>
<text x="155" y="2907" fill="#ff8000">99% &gt; Probability &gt;= 95%</text>
<text x="155" y="2982" fill="#d0d020">95% &gt; Probability &gt;= 90%</text>
<text x="155" y="3056" fill="#008000">90% &gt; Probability &gt;= 80%</text>
<text x="155" y="3131" fill="#00ff00">80% &gt; Probability &gt;= 70%</text>
<text x="155" y="3205" fill="#00aaff">70% &gt; Probability &gt;= 60%</text>
<text x="155" y="3280" fill="#0000ff">60% &gt; Probability &gt;= 50%</text>
<text x="155" y="3354" fill="#ff80ff">50% &gt; Probability</text>
<text x="150" y="3451" fill="#000">ENERGY = -36.4&#160;&#160;01/21/26 00:44:22</text>
</g>
</svg>
</body></html>
